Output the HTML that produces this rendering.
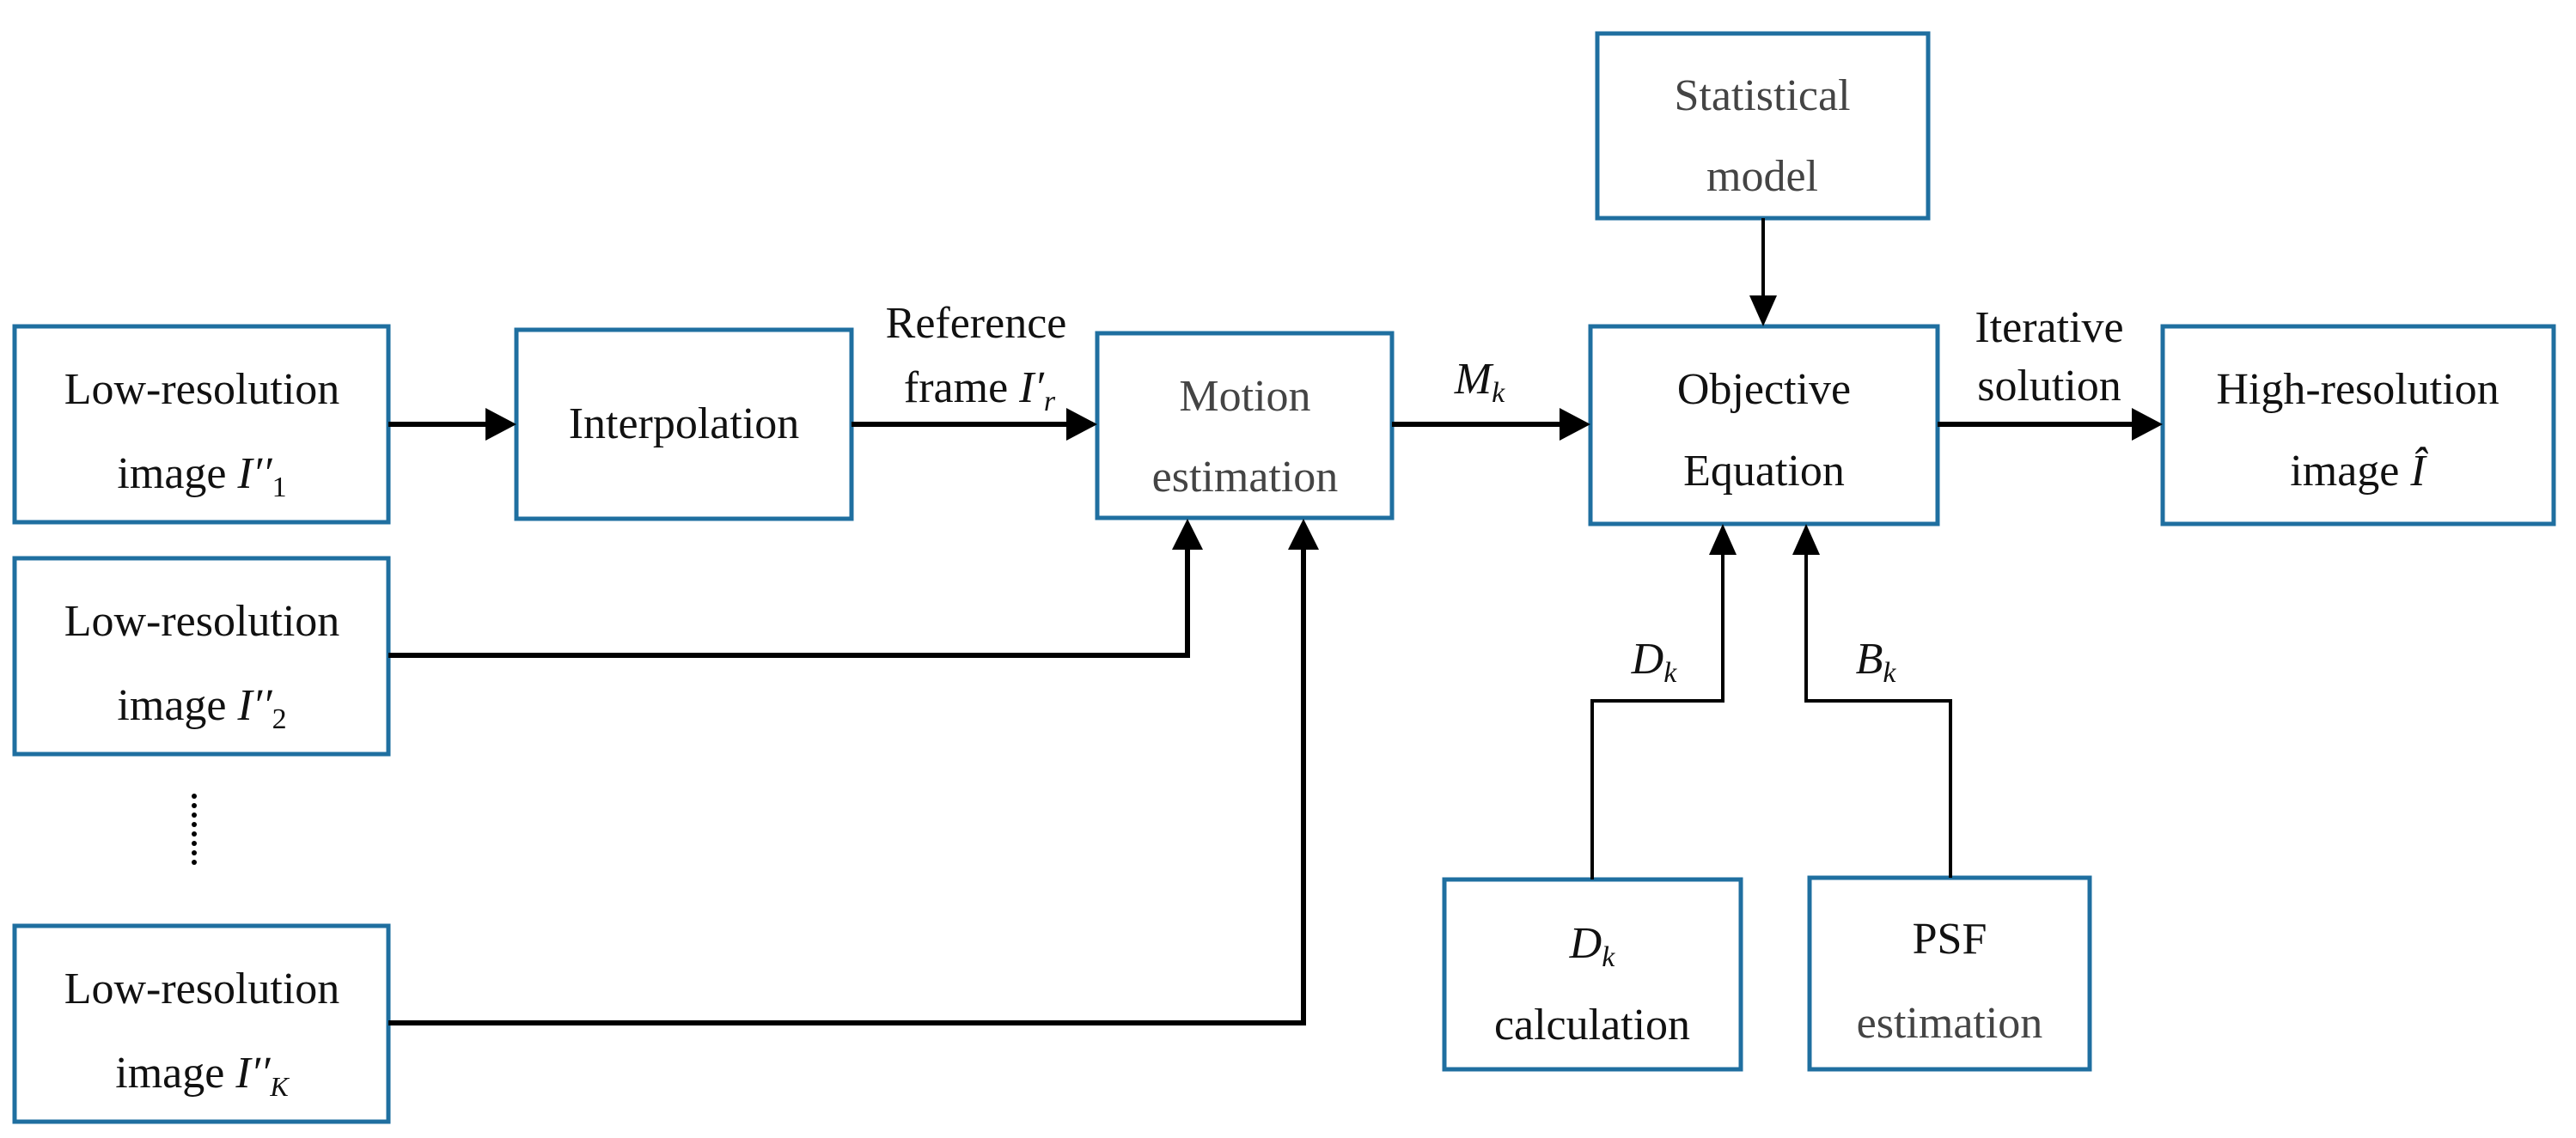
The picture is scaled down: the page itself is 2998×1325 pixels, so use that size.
<!DOCTYPE html>
<html><head><meta charset="utf-8"><style>
html,body{margin:0;padding:0;background:#fff;}
svg{display:block;}
text{font-family:"Liberation Serif",serif;font-size:52px;fill:#111;text-anchor:middle;}
.g{fill:#444;}
.i{font-style:italic;}
</style></head><body>
<svg width="2998" height="1325" viewBox="0 0 2998 1325">
<g fill="none" stroke="#1f6fa0" stroke-width="5">
<rect x="17" y="380" width="435" height="228"/>
<rect x="601" y="384" width="390" height="220"/>
<rect x="1277" y="388" width="343" height="215"/>
<rect x="17" y="650" width="435" height="228"/>
<rect x="17" y="1078" width="435" height="228"/>
<rect x="1859" y="39" width="385" height="215"/>
<rect x="1851" y="380" width="404" height="230"/>
<rect x="2517" y="380" width="455" height="230"/>
<rect x="1681" y="1024" width="345" height="221"/>
<rect x="2106" y="1022" width="326" height="223"/>
</g>
<g stroke="#000" stroke-width="6" fill="none">
<line x1="452" y1="494" x2="570" y2="494"/>
<line x1="991" y1="494" x2="1245" y2="494"/>
<line x1="1620" y1="494" x2="1820" y2="494"/>
<line x1="2255" y1="494" x2="2486" y2="494"/>
<polyline points="452,763 1382,763 1382,640"/>
<polyline points="452,1191 1517,1191 1517,640"/>
</g>
<g stroke="#000" stroke-width="4" fill="none">
<line x1="2052" y1="254" x2="2052" y2="345"/>
<polyline points="1853,1024 1853,816 2005,816 2005,645"/>
<polyline points="2270,1022 2270,816 2102,816 2102,645"/>
</g>
<g fill="#000">
<polygon points="601,494 565,475 565,513"/>
<polygon points="1277,494 1241,475 1241,513"/>
<polygon points="1851,494 1815,475 1815,513"/>
<polygon points="2517,494 2481,475 2481,513"/>
<polygon points="1382,604 1364,640 1400,640"/>
<polygon points="1517,604 1499,640 1535,640"/>
<polygon points="2052,380 2036,344 2068,344"/>
<polygon points="2005,610 1989,646 2021,646"/>
<polygon points="2102,610 2086,646 2118,646"/>
</g>
<g fill="#000">
<circle cx="226" cy="927" r="3"/><circle cx="226" cy="938" r="3"/><circle cx="226" cy="949" r="3"/><circle cx="226" cy="960" r="3"/><circle cx="226" cy="971" r="3"/><circle cx="226" cy="982" r="3"/><circle cx="226" cy="993" r="3"/><circle cx="226" cy="1004" r="3"/>
</g>
<text x="235" y="470">Low-resolution</text>
<text x="235" y="568">image  <tspan class="i">I′′</tspan><tspan font-size="34" dy="10">1</tspan></text>
<text x="235" y="740">Low-resolution</text>
<text x="235" y="838">image  <tspan class="i">I′′</tspan><tspan font-size="34" dy="10">2</tspan></text>
<text x="235" y="1168">Low-resolution</text>
<text x="235" y="1266">image  <tspan class="i">I′′</tspan><tspan font-size="32" dy="10" class="i">K</tspan></text>
<text x="796" y="510">Interpolation</text>
<text x="1136" y="393">Reference</text>
<text x="1140" y="468">frame  <tspan class="i">I′</tspan><tspan class="i" font-size="34" dy="10">r</tspan></text>
<text class="g" x="1449" y="478">Motion</text>
<text class="g" x="1449" y="572">estimation</text>
<text x="1722" y="458" class="i">M<tspan font-size="34" dy="10">k</tspan></text>
<text class="g" x="2051" y="128">Statistical</text>
<text class="g" x="2051" y="222">model</text>
<text x="2053" y="470">Objective</text>
<text x="2053" y="565">Equation</text>
<text x="2385" y="398">Iterative</text>
<text x="2385" y="466">solution</text>
<text x="2744" y="470">High-resolution</text>
<text x="2744" y="565">image  <tspan class="i">Î</tspan></text>
<text x="1925" y="784" class="i">D<tspan font-size="34" dy="10">k</tspan></text>
<text x="2183" y="784" class="i">B<tspan font-size="34" dy="10">k</tspan></text>
<text x="1853" y="1115" class="i">D<tspan font-size="34" dy="10">k</tspan></text>
<text x="1853" y="1210">calculation</text>
<text x="2269" y="1110">PSF</text>
<text class="g" x="2269" y="1208">estimation</text>
</svg>
</body></html>
